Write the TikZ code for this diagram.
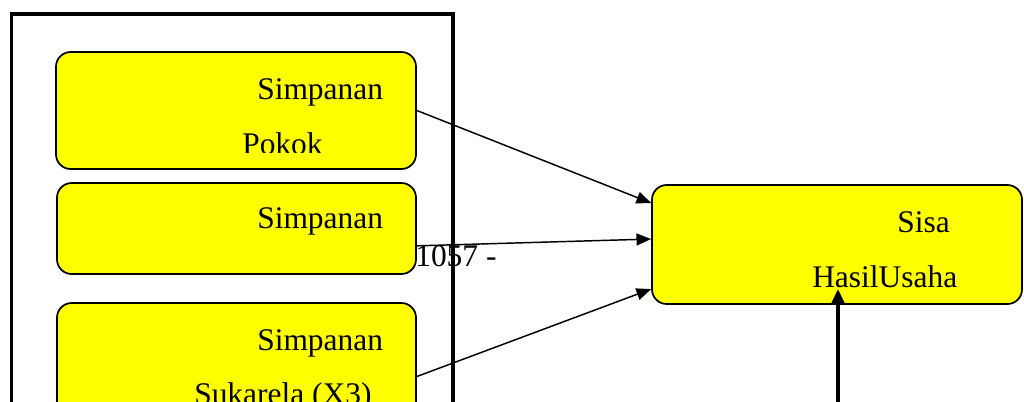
\documentclass[tikz,border=0pt]{standalone}
\usepackage{fontspec}
\setmainfont{Liberation Serif}
\usetikzlibrary{arrows.meta}
\definecolor{boxyellow}{RGB}{255,255,0}
\begin{document}
\begin{tikzpicture}[x=0.75pt,y=-0.75pt,
  box/.style={draw=black,line width=1.3pt,fill=boxyellow,rounded corners=11pt,inner sep=0pt},
  lbl/.style={anchor=base west,inner sep=0pt,font=\fontsize{23.6}{28}\selectfont},
  arr/.style={line width=1.1pt,-{Triangle[length=11pt,width=9pt]}},
  thick arr/.style={line width=2.6pt,-{Triangle[length=11pt,width=9.5pt]}}]
\useasboundingbox (0,0) rectangle (1024,401);
\clip (0,0) rectangle (1024,401);
% boxes
\node[box,minimum width=270pt,minimum height=87.75pt] (b1) at (236,110.5) {};
\node[box,minimum width=269.25pt,minimum height=68.25pt] (b2) at (236.5,228.5) {};
\node[box,minimum width=269.25pt,minimum height=110.25pt] (b3) at (236.5,376.5) {};
\node[box,minimum width=277.5pt,minimum height=89.25pt] (rb) at (837,244.5) {};
% texts
\node[lbl] (t1a) at (257,99) {Simpanan};
\begin{scope}
\clip (0,0) rectangle (1024,152);
\node[lbl] (t1b) at (242,154) {Pokok};
\end{scope}
\node[lbl] (t2a) at (257,228) {Simpanan};
\node[lbl] (num) at (415,266) {1057 -};
\node[lbl] (t3a) at (257,350) {Simpanan};
\node[lbl] (t3b) at (194,404) {Sukarela (X3)};
\node[lbl] (r1) at (897,232) {Sisa};
\node[lbl] (r2) at (812,287) {HasilUsaha};
% outer frame
\coordinate (f1) at (11.5,14);
\coordinate (f2) at (453,460);
\draw[line width=2.4pt] (f1) rectangle (f2);
% arrows
\draw[arr] (b1.east) -- ([yshift=31.1pt]rb.west);
\draw[arr] ([yshift=-13pt]b2.east) -- ([yshift=4.1pt]rb.west);
\draw[arr] (b3.east) -- ([yshift=-33.4pt]rb.west);
\coordinate (v) at (838,410);
\draw[thick arr] (v) -- ([xshift=0.75pt,yshift=12pt]rb.south);
\end{tikzpicture}
\end{document}
